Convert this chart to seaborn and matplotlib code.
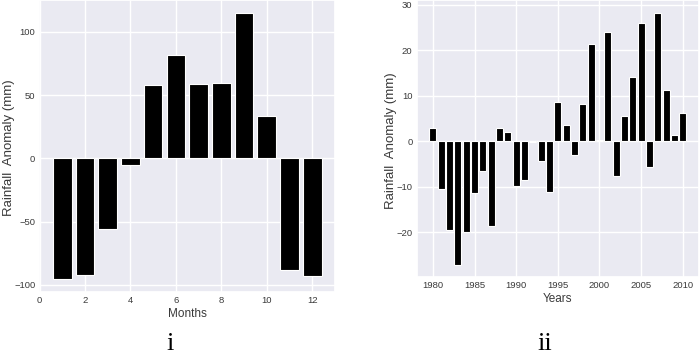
import matplotlib
matplotlib.use("Agg")
import matplotlib.pyplot as plt
import seaborn as sns
import pandas as pd

months = list(range(1, 13))
month_anomaly = [-95.2, -92.0, -55.8, -5.0, 57.7, 81.5, 58.5, 59.8, 114.8, 33.3, -88.4, -93.0]

years = list(range(1980, 2011))
year_anomaly = [2.9, -10.4, -19.5, -27.1, -19.9, -11.4, -6.5, -18.5, 2.9, 2.0,
                -9.9, -8.4, -0.2, -4.3, -11.2, 8.6, 3.6, -3.0, 8.3, 21.5,
                0.3, 24.0, -7.7, 5.6, 14.2, 26.0, -5.7, 28.3, 11.25, 1.5, 6.3]

sns.set_theme(style="darkgrid")
plt.rcParams['font.family'] = ['Liberation Sans', 'DejaVu Sans']
plt.rcParams['xtick.labelsize'] = 6.8
plt.rcParams['ytick.labelsize'] = 6.8
plt.rcParams['axes.labelsize'] = 8.5
plt.rcParams['xtick.color'] = '#3a3a3a'
plt.rcParams['ytick.color'] = '#3a3a3a'
plt.rcParams['axes.labelcolor'] = '#3a3a3a'

fig = plt.figure(figsize=(6.99, 3.56), dpi=100)
ax1 = fig.add_axes([0.0565, 0.18, 0.4227, 0.82])
ax2 = fig.add_axes([0.596, 0.221, 0.404, 0.779])

df_m = pd.DataFrame({"Months": months, "Anomaly": month_anomaly})
df_y = pd.DataFrame({"Years": years, "Anomaly": year_anomaly})

ax1.bar(df_m["Months"], df_m["Anomaly"], width=0.82, color="black", edgecolor="white", linewidth=0.8)
ax1.set_xlabel("Months", labelpad=2)
ax1.set_ylabel("Rainfall  Anomaly (mm)", fontsize=9.5)
ax1.yaxis.set_label_coords(0.0215, 0.586, transform=fig.transFigure)
ax1.set_xticks([0, 2, 4, 6, 8, 10, 12])
ax1.set_yticks([-100, -50, 0, 50, 100])
ax1.tick_params(length=0, pad=3)

ax2.bar(df_y["Years"], df_y["Anomaly"], width=0.82, color="black", edgecolor="white", linewidth=0.8)
ax2.set_xlabel("Years", labelpad=2)
ax2.set_ylabel("Rainfall  Anomaly (mm)", fontsize=9.5)
ax2.yaxis.set_label_coords(0.568, 0.604, transform=fig.transFigure)
ax2.set_xticks([1980, 1985, 1990, 1995, 2000, 2005, 2010])
ax2.set_yticks([-20, -10, 0, 10, 20, 30])
ax2.tick_params(length=0, pad=3)

fig.text(0.243, 0.017, "i", family="Liberation Serif", fontsize=19, ha="center", va="baseline", color="black")
fig.text(0.779, 0.017, "ii", family="Liberation Serif", fontsize=19, ha="center", va="baseline", color="black")

fig.savefig("out.png", dpi=100)
